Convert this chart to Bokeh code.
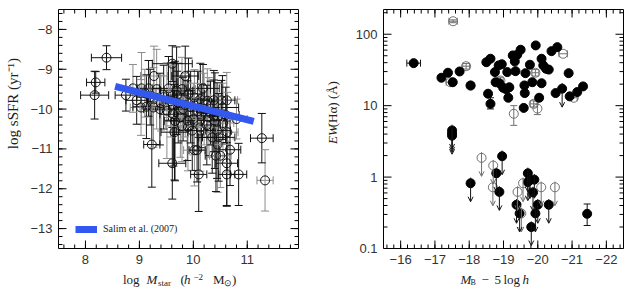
import numpy as np
from bokeh.plotting import figure
from bokeh.layouts import row, column
from bokeh.models import ColumnDataSource, FixedTicker, Range1d, Arrow, OpenHead
from bokeh.core.properties import value
from bokeh.embed import file_html
from bokeh.resources import INLINE

# ---------------- left panel: sSFR vs stellar mass ----------------
ms_x = [8.39, 8.19, 8.17, 8.75, 9.61, 9.27, 9.85, 10.18,
        8.88, 9.04, 9.17, 9.32, 9.54, 9.69, 9.79, 9.91, 10.02, 10.13, 10.26, 10.38, 10.52, 10.62,
        8.95, 9.03, 9.13, 9.26, 9.38, 9.51, 9.63, 9.76, 9.81, 9.89, 10.00, 10.15, 10.29, 10.38, 10.54, 10.80,
        9.65, 9.79, 9.98, 10.13, 10.40, 10.44, 10.63, 10.35, 10.47, 10.45, 10.68, 10.02, 10.07,
        9.23, 9.61, 10.10, 10.42, 10.50, 10.62, 10.62, 10.84, 11.27, 11.33,
        9.10, 9.45, 9.58, 9.72, 9.85, 9.95, 10.08, 10.20, 10.32, 9.70, 9.40, 9.66, 10.55, 10.60, 9.20, 9.90, 10.25]
ms_y = [-8.71, -9.33, -9.65, -9.65, -8.86, -9.17, -9.17, -9.48,
        -9.48, -9.48, -9.48, -9.50, -9.48, -9.54, -9.50, -9.62, -9.71, -9.75, -9.79, -9.78, -9.78, -9.78,
        -9.78, -9.96, -9.94, -9.96, -10.00, -10.04, -10.13, -10.21, -10.00, -10.29, -10.25, -10.17, -10.21, -10.17, -9.96, -10.25,
        -10.58, -10.42, -10.54, -10.46, -10.29, -10.54, -10.58, -10.71, -10.71, -10.89, -11.02, -11.03, -11.03,
        -10.89, -11.36, -11.64, -11.17, -11.17, -11.36, -11.64, -11.64, -10.73, -11.79,
        -9.60, -9.70, -9.80, -9.85, -9.90, -9.95, -10.05, -10.00, -10.10, -9.65, -9.85, -10.30, -10.35, -10.15, -9.70, -10.45, -10.40]
ms_xerr = [0.28, 0.17, 0.26, 0.20, 0.37, 0.25, 0.25, 0.30,
           0.12, 0.20, 0.20, 0.25, 0.30, 0.30, 0.25, 0.30, 0.30, 0.25, 0.30, 0.25, 0.25, 0.20,
           0.20, 0.20, 0.25, 0.25, 0.30, 0.30, 0.25, 0.30, 0.25, 0.30, 0.25, 0.30, 0.25, 0.20, 0.30, 0.20,
           0.25, 0.30, 0.25, 0.30, 0.20, 0.25, 0.20, 0.25, 0.30, 0.20, 0.20, 0.20, 0.15,
           0.15, 0.25, 0.15, 0.20, 0.20, 0.20, 0.15, 0.15, 0.21, 0.15,
           0.20, 0.25, 0.30, 0.30, 0.25, 0.30, 0.25, 0.30, 0.25, 0.20, 0.25, 0.20, 0.20, 0.25, 0.25, 0.30, 0.25]
ms_yerr = [0.30, 0.27, 0.60, 0.40, 0.45, 0.75, 0.75, 0.60,
           0.60, 0.90, 0.70, 1.00, 0.80, 1.10, 0.80, 0.90, 0.70, 0.90, 0.80, 0.75, 0.50, 0.70,
           0.60, 0.70, 0.80, 1.00, 0.90, 1.20, 1.30, 1.00, 0.80, 1.00, 0.90, 0.80, 1.00, 0.90, 0.80, 0.50,
           1.20, 0.90, 1.00, 1.10, 1.20, 1.20, 1.00, 0.90, 1.10, 1.20, 0.90, 0.90, 0.80,
           1.07, 0.90, 0.93, 0.90, 0.80, 1.06, 0.80, 0.78, 0.62, 0.77,
           0.60, 0.80, 0.90, 1.00, 0.80, 0.90, 1.00, 0.90, 0.80, 0.60, 0.70, 1.50, 1.00, 0.70, 0.70, 1.10, 1.00]
ms_grp = [0, 0, 0, 0, 0, 1, 0, 0,
          1, 1, 0, 1, 0, 0, 1, 0, 1, 0, 1, 0, 0, 1,
          0, 1, 0, 1, 0, 1, 0, 1, 0, 0, 1, 0, 1, 0, 0, 1,
          0, 1, 0, 1, 0, 0, 1, 0, 0, 1, 0, 1, 0,
          0, 0, 0, 0, 1, 0, 0, 0, 0, 1,
          1, 0, 1, 0, 1, 0, 0, 1, 0, 0, 1, 0, 1, 0, 0, 1, 0]
salim_x = [8.55, 11.12]
salim_y = [-9.43, -10.31]
salim_label = "Salim et al. (2007)"

mass_ticks = [8, 9, 10, 11]
ssfr_ticks = [-13, -12, -11, -10, -9, -8]

# ---------------- right panel: EW(Halpha) vs M_B ----------------
fil_x = [-16.38, -17.19, -17.38, -17.52, -17.72, -18.04, -18.50, -18.62, -18.55, -18.62,
         -18.75, -18.77, -18.86, -18.95, -18.88, -18.99, -19.08, -19.14, -19.11, -19.17,
         -19.27, -19.33, -19.40, -19.50, -19.35, -19.59, -19.62, -19.61, -19.64, -19.77,
         -19.84, -19.94, -20.04, -20.11, -20.11, -20.16, -20.24, -20.32, -20.40, -20.52,
         -20.57, -20.90, -20.93, -21.15, -21.32, -21.44]
fil_y = [39.4, 24.6, 28.9, 21.3, 30.1, 19.2, 40.6, 45.4, 14.7, 10.6,
         29.5, 21.3, 36.6, 38.0, 20.6, 17.8, 16.9, 12.9, 29.5, 18.1,
         50.5, 41.6, 51.6, 60.7, 30.4, 9.3, 15.0, 19.2, 28.5, 37.4,
         21.3, 69.7, 12.9, 45.4, 20.6, 36.6, 32.9, 32.0, 58.0, 15.0,
         66.0, 28.5, 13.5, 15.5, 18.6, 0.306]
# filled points with visible error bars
ferr_x = [-16.38, -18.62, -21.44]
ferr_y = [39.4, 10.6, 0.306]
ferr_xerr = [0.20, 0.0, 0.0]
ferr_ylo = [39.4, 9.0, 0.21]
ferr_yhi = [39.4, 12.9, 0.42]

opn_x = [-17.53, -17.91, -17.45, -18.04, -18.91, -19.30, -19.93, -19.88, -19.99, -20.74, -21.05]
opn_y = [152, 35.7, 21.3, 19.0, 22.5, 7.7, 28.9, 10.6, 9.1, 53.3, 12.9]
opn_xerr = [0.12, 0.10, 0.12, 0.10, 0.08, 0.0, 0.10, 0.10, 0.0, 0.12, 0.10]
opn_ylo = [145, 32.5, 21.3, 19.0, 20.0, 5.3, 26.0, 9.6, 7.5, 53.3, 12.9]
opn_yhi = [159, 39.0, 21.3, 19.0, 25.0, 10.0, 32.0, 11.7, 11.5, 53.3, 12.9]

ulf_x = [-17.50, -17.50, -17.50, -18.04, -18.96, -18.79, -18.88, -19.38, -19.47, -19.71,
         -19.71, -19.77, -19.90, -19.86, -20.00, -19.93, -19.81, -20.32, -20.71]
ulf_y = [4.5, 4.1, 3.8, 0.82, 1.96, 1.13, 0.62, 0.41, 0.31, 1.13,
         0.85, 0.91, 0.92, 0.61, 0.41, 0.31, 0.20, 0.41, 17.3]
ulo_x = [-18.36, -18.70, -18.69, -19.41, -19.52, -19.57, -20.10, -20.50]
ulo_y = [1.86, 1.45, 0.72, 0.62, 0.31, 0.82, 0.72, 0.72]

mb_ticks = [-16, -17, -18, -19, -20, -21, -22]
ew_ticks = [0.1, 1, 10, 100]
ew_tick_labels = ["0.1", "1", "10", "100"]

# ---------------- styling helpers ----------------
SERIF = "Liberation Serif"
TICKFONT = "Liberation Sans"
GRAY = "#8c8c8c"
OPEN_GRAY = "#707070"
INK = "#222222"

X1 = (7.5, 11.95)
Y1 = (-13.5, -7.5)
X2 = (-15.5, -22.5)
Y2 = (0.1, 222.0)

MAIN_H = 270   # height of the two plot figures
STRIP_H = 18   # height of the x-title strips below them


def style_axes(p, xt, yt, xover, yover):
    p.xaxis.ticker = FixedTicker(ticks=xt)
    p.yaxis.ticker = FixedTicker(ticks=yt)
    p.xaxis.major_label_overrides = xover
    p.yaxis.major_label_overrides = yover
    for ax in p.xaxis + p.yaxis:
        ax.axis_line_color = None
        ax.major_tick_in = 0
        ax.major_tick_out = 0
        ax.minor_tick_in = 0
        ax.minor_tick_out = 0
        ax.axis_label = None
        ax.major_label_text_font = TICKFONT
        ax.major_label_text_font_size = "13px"
        ax.major_label_text_color = "#333333"
        ax.major_label_standoff = 6
    p.xgrid.grid_line_color = None
    p.ygrid.grid_line_color = None
    p.outline_line_color = "black"
    p.background_fill_color = "white"
    p.border_fill_color = "white"


def frame_ticks(p, xt, xm, yt, ym, xr, yr):
    # tick marks centred on the frame edges; the frame clip keeps only the inner half
    for yy in yr:
        p.scatter(x=xt, y=[yy] * len(xt), marker="dash", angle=np.pi / 2, size=16, line_color="black")
        p.scatter(x=xm, y=[yy] * len(xm), marker="dash", angle=np.pi / 2, size=8, line_color="black")
    for xx in xr:
        p.scatter(x=[xx] * len(yt), y=yt, marker="dash", size=16, line_color="black")
        p.scatter(x=[xx] * len(ym), y=ym, marker="dash", size=8, line_color="black")


def minus(v):
    return f"{v:g}".replace("-", "\u2212")


def label_fig(w, h):
    f = figure(width=w, height=h, x_range=Range1d(0, w), y_range=Range1d(0, h),
               output_backend="svg", toolbar_location=None, min_border=0,
               x_axis_location=None, y_axis_location=None)
    f.outline_line_color = None
    f.xgrid.grid_line_color = None
    f.ygrid.grid_line_color = None
    f.background_fill_color = "white"
    f.border_fill_color = "white"
    return f


def piece(f, left, top, px, py, s, size=13, style="normal", angle=0.0, align="left",
          baseline="alphabetic"):
    h = f.height
    f.text(x=[px - left], y=[top + h - py], text=[s], text_font=value(SERIF),
           text_font_size=value(f"{size}px"), text_font_style=value(style),
           text_color=INK, text_align=value(align), text_baseline=value(baseline),
           angle=angle)


# ---------------- left figure ----------------
p1 = figure(width=294, height=MAIN_H, x_range=Range1d(*X1), y_range=Range1d(*Y1),
            output_backend="svg", toolbar_location=None,
            min_border_left=34, min_border_right=20, min_border_top=9, min_border_bottom=22)
style_axes(p1, mass_ticks, ssfr_ticks,
           {t: minus(t) for t in mass_ticks}, {t: minus(t) for t in ssfr_ticks})
frame_ticks(p1, mass_ticks, [round(v, 1) for v in np.arange(7.6, 11.95, 0.2)],
            ssfr_ticks, [round(v, 1) for v in np.arange(-13.4, -7.5, 0.2)], X1, Y1)

mx = np.array(ms_x); my = np.array(ms_y)
mxe = np.array(ms_xerr); mye = np.array(ms_yerr)
cols = np.where(np.array(ms_grp) == 1, GRAY, "#111111")
src = ColumnDataSource(dict(x=mx, y=my, xl=mx - mxe, xh=mx + mxe, yl=my - mye, yh=my + mye, c=cols))
p1.segment(x0="x", y0="yl", x1="x", y1="yh", line_color="c", line_width=1, source=src)
p1.segment(x0="xl", y0="y", x1="xh", y1="y", line_color="c", line_width=1, source=src)
p1.scatter(x="x", y="yl", marker="dash", size=8, line_color="c", source=src)
p1.scatter(x="x", y="yh", marker="dash", size=8, line_color="c", source=src)
p1.scatter(x="xl", y="y", marker="dash", angle=np.pi / 2, size=8, line_color="c", source=src)
p1.scatter(x="xh", y="y", marker="dash", angle=np.pi / 2, size=8, line_color="c", source=src)
p1.scatter(x="x", y="y", marker="circle", size=9, line_color="#111111", fill_color=None,
           line_width=1, source=src)
p1.line(salim_x, salim_y, line_width=7, line_color="#3358f0", legend_label=salim_label)
p1.legend.location = (17, 14)
p1.legend.background_fill_alpha = 0
p1.legend.border_line_color = None
p1.legend.padding = 0
p1.legend.margin = 0
p1.legend.glyph_width = 22
p1.legend.glyph_height = 10
p1.legend.label_height = 10
p1.legend.label_standoff = 6
p1.legend.label_text_font = SERIF
p1.legend.label_text_font_size = "10px"
p1.legend.label_text_color = INK

# ---------------- right figure ----------------
p2 = figure(width=293, height=MAIN_H, x_range=Range1d(*X2), y_range=Range1d(*Y2),
            y_axis_type="log", output_backend="svg", toolbar_location=None,
            min_border_left=42, min_border_right=11, min_border_top=9, min_border_bottom=22)
style_axes(p2, mb_ticks, ew_ticks,
           {t: minus(t) for t in mb_ticks}, dict(zip(ew_ticks, ew_tick_labels)))
ew_minor = [m * 10.0 ** e for e in (-1, 0, 1, 2) for m in range(2, 10) if m * 10.0 ** e <= 222]
frame_ticks(p2, mb_ticks, [round(v, 1) for v in np.arange(-15.6, -22.45, -0.2)],
            ew_ticks, ew_minor, X2, Y2)


def err_draw(p, x, y, xerr, ylo, yhi, color, cap=7):
    x = np.array(x, float); y = np.array(y, float); xerr = np.array(xerr, float)
    ylo = np.array(ylo, float); yhi = np.array(yhi, float)
    hx = xerr > 0
    hy = yhi > ylo
    s = ColumnDataSource(dict(x=x[hx], y=y[hx], xl=(x - xerr)[hx], xh=(x + xerr)[hx]))
    p.segment(x0="xl", y0="y", x1="xh", y1="y", line_color=color, source=s)
    p.scatter(x="xl", y="y", marker="dash", angle=np.pi / 2, size=cap, line_color=color, source=s)
    p.scatter(x="xh", y="y", marker="dash", angle=np.pi / 2, size=cap, line_color=color, source=s)
    s2 = ColumnDataSource(dict(x=x[hy], yl=ylo[hy], yh=yhi[hy]))
    p.segment(x0="x", y0="yl", x1="x", y1="yh", line_color=color, source=s2)
    p.scatter(x="x", y="yl", marker="dash", size=cap, line_color=color, source=s2)
    p.scatter(x="x", y="yh", marker="dash", size=cap, line_color=color, source=s2)


def arrows(p, x, y, color):
    y = np.array(y, float)
    s = ColumnDataSource(dict(x=x, ys=y * 1.2, ye=y * 0.55))
    p.add_layout(Arrow(end=OpenHead(size=5, line_color=color, line_width=1),
                       x_start="x", y_start="ys", x_end="x", y_end="ye",
                       line_color=color, line_width=1, source=s))


err_draw(p2, opn_x, opn_y, opn_xerr, opn_ylo, opn_yhi, OPEN_GRAY)
arrows(p2, ulo_x, ulo_y, OPEN_GRAY)
p2.scatter(opn_x, opn_y, marker="circle", size=9, line_color=OPEN_GRAY, fill_color=None)
p2.scatter(ulo_x, ulo_y, marker="circle", size=9, line_color=OPEN_GRAY, fill_color=None)
err_draw(p2, ferr_x, ferr_y, ferr_xerr, ferr_ylo, ferr_yhi, "#111111")
arrows(p2, ulf_x, ulf_y, "#111111")
p2.scatter(fil_x, fil_y, marker="circle", size=9, line_color="black", fill_color="black")
p2.scatter(ulf_x, ulf_y, marker="circle", size=9, line_color="black", fill_color="black")

# ---------------- axis-title strips (page coordinates) ----------------
ylab1 = label_fig(24, MAIN_H)      # page x 0-24
piece(ylab1, 0, 0, 12.5, 102, "log  sSFR  (yr\u207b\u00b9)", size=15, angle=np.pi / 2,
      align="center", baseline="middle")

ylab2 = label_fig(23, MAIN_H)      # page x 318-341
piece(ylab2, 318, 0, 332, 152, "EW", size=13, style="italic", angle=np.pi / 2,
      baseline="middle")
piece(ylab2, 318, 0, 332, 133, "(H\u03b1)  (\u00c5)", size=13, angle=np.pi / 2,
      baseline="middle")

xlab1 = label_fig(318, STRIP_H)    # page x 0-318, y 270-288
for px, py, s, sz, st in [(122.5, 279, "log", 13, "normal"),
                          (146, 279, "M", 13, "italic"),
                          (157.5, 282, "star", 9, "normal"),
                          (180, 279, "(", 13, "normal"),
                          (183.5, 279, "h", 13, "italic"),
                          (193, 276.5, "\u22122", 9, "normal"),
                          (212.5, 279, "M", 13, "normal"),
                          (223, 282, "\u2299", 9, "normal"),
                          (231.5, 279, ")", 13, "normal")]:
    piece(xlab1, 0, MAIN_H, px, py, s, size=sz, style=st)

xlab2 = label_fig(316, STRIP_H)    # page x 318-634
for px, py, s, sz, st in [(460, 279, "M", 13, "italic"),
                          (470, 282, "B", 8, "normal"),
                          (481, 279, "\u2212", 13, "normal"),
                          (494, 279, "5", 13, "normal"),
                          (503, 279, "log", 13, "normal"),
                          (522, 279, "h", 13, "italic")]:
    piece(xlab2, 318, MAIN_H, px, py, s, size=sz, style=st)

layout = row(column(row(ylab1, p1), xlab1), column(row(ylab2, p2), xlab2))
open("out.html", "w").write(file_html(layout, INLINE))
